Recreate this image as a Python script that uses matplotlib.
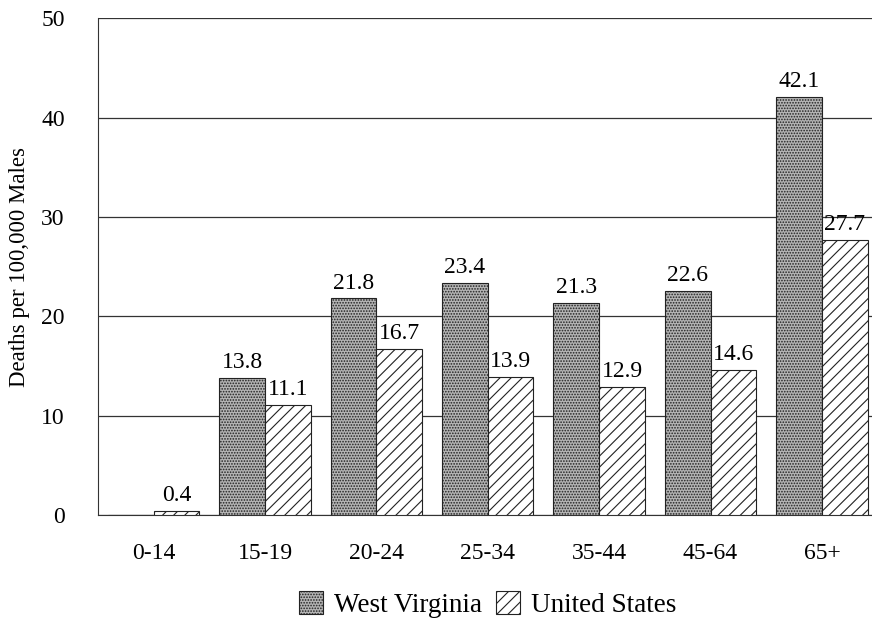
import numpy as np
import matplotlib.pyplot as plt
import matplotlib as mpl

plt.rcParams['font.family'] = ['Liberation Serif', 'DejaVu Serif']
mpl.rcParams['hatch.linewidth'] = 0.8

age_groups = ['0-14', '15-19', '20-24', '25-34', '35-44', '45-64', '65+']
west_virginia = [0.0, 13.8, 21.8, 23.4, 21.3, 22.6, 42.1]
united_states = [0.4, 11.1, 16.7, 13.9, 12.9, 14.6, 27.7]

fig = plt.figure(figsize=(8.72, 6.26), dpi=100)
ax = fig.add_axes([0.1124, 0.177, 0.8876, 0.794])

x = np.arange(len(age_groups))
w = 0.41

wv_bars = ax.bar(x - w / 2, west_virginia, w, facecolor='#b4b4b4', edgecolor='#222222',
                 hatch='......', linewidth=0.8, label='West Virginia', zorder=3)
us_bars = ax.bar(x + w / 2, united_states, w, facecolor='white', edgecolor='#222222',
                 hatch='///', linewidth=0.8, label='United States', zorder=3)

for xi, v in zip(x, west_virginia):
    if v > 0:
        ax.text(xi - w / 2, v + 0.5, f'{v:.1f}', ha='center', va='bottom', fontsize=17)
for xi, v in zip(x, united_states):
    ax.text(xi + w / 2, v + 0.5, f'{v:.1f}', ha='center', va='bottom', fontsize=17)

ax.set_ylim(0, 50)
ax.set_xlim(-0.5, 6.45)
ax.set_yticks([0, 10, 20, 30, 40, 50])
ax.set_xticks(x)
ax.set_xticklabels(age_groups)
ax.tick_params(axis='both', length=0, labelsize=17)
ax.tick_params(axis='y', pad=24)
ax.tick_params(axis='x', pad=20)
ax.yaxis.grid(True, color='#333333', linewidth=0.9, zorder=0)
ax.set_axisbelow(True)
for s in ['top', 'right']:
    ax.spines[s].set_visible(False)
ax.spines['left'].set_color('#333333')
ax.spines['bottom'].set_color('#333333')
ax.set_ylabel('Deaths per 100,000 Males', fontsize=16.5, labelpad=8)

fig.legend(handles=[wv_bars, us_bars], loc='center', bbox_to_anchor=(0.559, 0.034),
           ncol=2, frameon=False, fontsize=19.5, handlelength=0.9, handleheight=0.9,
           handletextpad=0.4, columnspacing=0.5, borderpad=0)

fig.savefig('out.png', dpi=100)
